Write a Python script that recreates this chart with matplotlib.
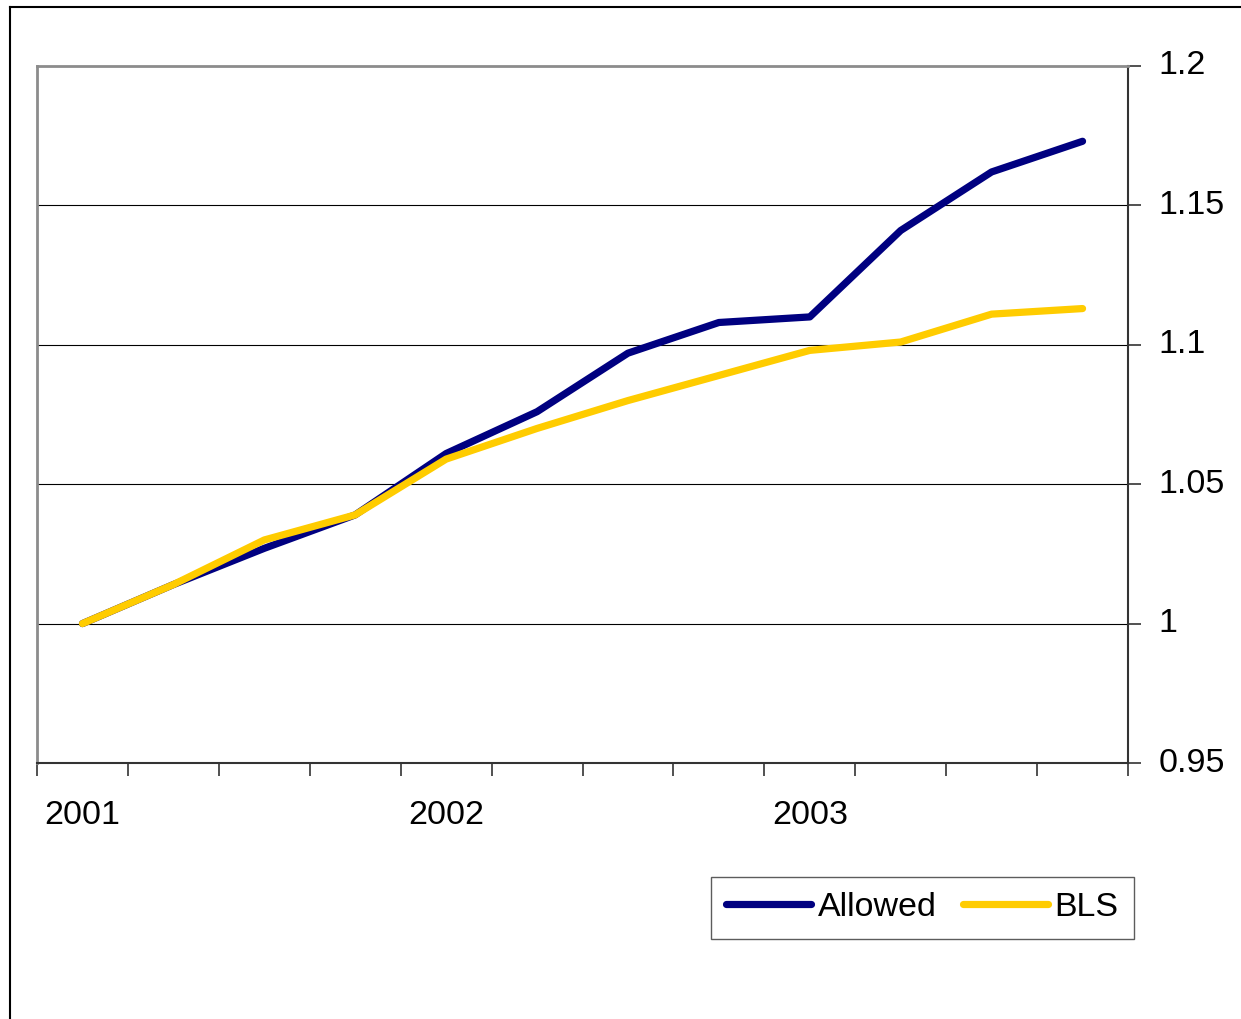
import matplotlib
matplotlib.use("Agg")
import matplotlib.pyplot as plt
from matplotlib.lines import Line2D

plt.rcParams['font.family'] = ['Liberation Sans', 'DejaVu Sans']

# Quarterly index values, 2001 Q1 through 2003 Q4
quarters = list(range(12))
year_labels = ["2001", "2002", "2003"]
year_positions = [0, 4, 8]
allowed = [1.000, 1.014, 1.027, 1.039, 1.061, 1.076, 1.097, 1.108, 1.110, 1.141, 1.162, 1.173]
bls = [1.000, 1.014, 1.030, 1.039, 1.059, 1.070, 1.080, 1.089, 1.098, 1.101, 1.111, 1.113]
y_ticks = [0.95, 1.0, 1.05, 1.1, 1.15, 1.2]
y_tick_labels = ["0.95", "1", "1.05", "1.1", "1.15", "1.2"]

W, H = 1241, 1019
FS = 24.5
fig = plt.figure(figsize=(W / 100, H / 100), dpi=100)

# Chart-area frame (top and left edges)
fig.add_artist(Line2D([9.5 / W, 1.0], [1 - 6.5 / H, 1 - 6.5 / H], color="black", lw=1.5,
                      transform=fig.transFigure))
fig.add_artist(Line2D([9.5 / W, 9.5 / W], [0.0, 1 - 6.5 / H], color="black", lw=1.5,
                      transform=fig.transFigure))

ax = fig.add_axes([37 / W, 1 - 763 / H, (1128 - 37) / W, (763 - 66) / H])

for y in [1.0, 1.05, 1.1, 1.15]:
    ax.axhline(y, color="black", lw=0.8, zorder=1)

ax.plot(quarters, allowed, color="#000080", lw=5.2, solid_capstyle="round",
        solid_joinstyle="round", label="Allowed", zorder=3)
ax.plot(quarters, bls, color="#FFCC00", lw=5.2, solid_capstyle="round",
        solid_joinstyle="round", label="BLS", zorder=4)

ax.set_xlim(-0.5, 11.5)
ax.set_ylim(0.95, 1.2)

# Category boundaries get the tick marks; year labels sit under the first quarter
ax.set_xticks([i - 0.5 for i in range(13)], minor=True)
ax.set_xticks(year_positions)
ax.set_xticklabels(year_labels, fontsize=FS)
ax.tick_params(axis="x", which="major", length=0, pad=27)
ax.tick_params(axis="x", which="minor", length=9, width=1.2, direction="out", color="#333333")

ax.yaxis.tick_right()
ax.set_yticks(y_ticks)
ax.set_yticklabels(y_tick_labels, fontsize=FS)
ax.tick_params(axis="y", length=9, width=1.2, direction="out", pad=13, color="#333333")
for lbl in ax.get_yticklabels():
    lbl.set_verticalalignment("center")

for side in ["top", "left"]:
    ax.spines[side].set_color("#8c8c8c")
    ax.spines[side].set_linewidth(2)
for side in ["bottom", "right"]:
    ax.spines[side].set_color("#333333")
    ax.spines[side].set_linewidth(1.5)

leg = ax.legend(loc="upper left", bbox_to_anchor=(711 / W, 1 - 877 / H),
                bbox_transform=fig.transFigure, ncol=2, fontsize=FS, frameon=True,
                fancybox=False, handlelength=2.5, handletextpad=0.2, columnspacing=0.75,
                borderpad=0.45, borderaxespad=0)
leg.get_frame().set_edgecolor("#333333")
leg.get_frame().set_linewidth(1.0)
for line in leg.get_lines():
    line.set_linewidth(5.2)
    line.set_solid_capstyle("round")

fig.savefig("out.png", dpi=100)
